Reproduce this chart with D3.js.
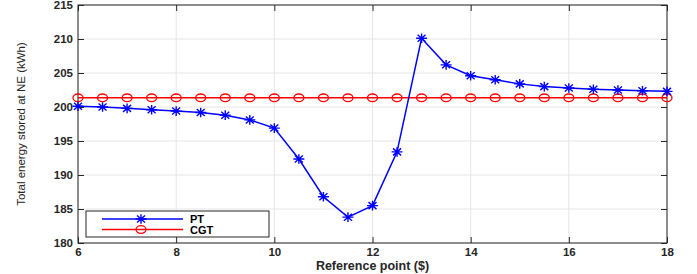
<!DOCTYPE html>
<html><head><meta charset="utf-8">
<script src="https://cdn.jsdelivr.net/npm/d3@7"></script>
<style>body{margin:0;background:#fff}svg{display:block}</style>
</head><body>
<svg id="c" width="697" height="274"></svg>
<script>
const refPoints = [6,6.5,7,7.5,8,8.5,9,9.5,10,10.5,11,11.5,12,12.5,13,13.5,14,14.5,15,15.5,16,16.5,17,17.5,18];
const ptValues = [200.1,200.0,199.8,199.6,199.4,199.2,198.8,198.1,196.9,192.35,186.8,183.8,185.5,193.4,210.1,206.2,204.6,204.0,203.4,203.0,202.8,202.6,202.5,202.4,202.3];
const cgtValues = refPoints.map(() => 201.35);
const xTicks = [6,8,10,12,14,16,18];
const yTicks = [180,185,190,195,200,205,210,215];
const seriesNames = ["PT","CGT"];

const svg = d3.select("#c");
const L=78,R=667,T=5,B=243;
const x = d3.scaleLinear().domain([6,18]).range([L,R]);
const y = d3.scaleLinear().domain([180,215]).range([B,T]);
const font = "'Liberation Sans', Arial, sans-serif";

// grid
svg.append("g").selectAll("line").data(xTicks).join("line")
  .attr("x1",d=>x(d)).attr("x2",d=>x(d)).attr("y1",T).attr("y2",B)
  .attr("stroke","#e6e6e6").attr("stroke-width",1);
svg.append("g").selectAll("line").data(yTicks).join("line")
  .attr("y1",d=>y(d)).attr("y2",d=>y(d)).attr("x1",L).attr("x2",R)
  .attr("stroke","#e6e6e6").attr("stroke-width",1);

// axes
const xa = svg.append("g").attr("transform",`translate(0,${B})`)
  .call(d3.axisBottom(x).tickValues(xTicks).tickSizeInner(-6).tickSizeOuter(0).tickPadding(5).tickFormat(d3.format("d")));
const ya = svg.append("g").attr("transform",`translate(${L},0)`)
  .call(d3.axisLeft(y).tickValues(yTicks).tickSizeInner(-6).tickSizeOuter(0).tickPadding(5).tickFormat(d3.format("d")));
const xt = svg.append("g").attr("transform",`translate(0,${T})`)
  .call(d3.axisTop(x).tickValues(xTicks).tickSizeInner(-6).tickSizeOuter(0).tickFormat(""));
const yr = svg.append("g").attr("transform",`translate(${R},0)`)
  .call(d3.axisRight(y).tickValues(yTicks).tickSizeInner(-6).tickSizeOuter(0).tickFormat(""));
[xa,ya,xt,yr].forEach(g=>{
  g.select(".domain").remove();
  g.selectAll(".tick line").attr("stroke","#262626");
  g.selectAll("text").attr("font-family",font).attr("font-size",11.5).attr("font-weight","bold").attr("fill","#262626");
});
svg.append("rect").attr("x",L).attr("y",T).attr("width",R-L).attr("height",B-T)
  .attr("fill","none").attr("stroke","#262626").attr("stroke-width",1);

// lines
const line = d3.line().x(d=>x(d[0])).y(d=>y(d[1]));
const cgtData = refPoints.map((r,i)=>[r,cgtValues[i]]);
const ptData = refPoints.map((r,i)=>[r,ptValues[i]]);
svg.append("path").datum(cgtData).attr("d",line).attr("fill","none").attr("stroke","#ff0000").attr("stroke-width",1.5);
svg.append("path").datum(ptData).attr("d",line).attr("fill","none").attr("stroke","#0000ff").attr("stroke-width",1.5);

function ring(g,cx,cy){
  g.append("ellipse").attr("cx",cx).attr("cy",cy).attr("rx",5).attr("ry",3.8)
    .attr("fill","none").attr("stroke","#ff0000").attr("stroke-width",1.3);
}
function star(g,cx,cy){
  const sx=5.5, sy=4.8, dx=4, dy=3.5;
  const p=`M${cx-sx},${cy}L${cx+sx},${cy}M${cx},${cy-sy}L${cx},${cy+sy}M${cx-dx},${cy-dy}L${cx+dx},${cy+dy}M${cx-dx},${cy+dy}L${cx+dx},${cy-dy}`;
  g.append("path").attr("d",p).attr("stroke","#0000ff").attr("stroke-width",1.4).attr("fill","none");
}
const cg = svg.append("g");
cgtData.forEach(d=>ring(cg,x(d[0]),y(d[1])));
const pg = svg.append("g");
ptData.forEach(d=>star(pg,x(d[0]),y(d[1])));

// labels
svg.append("text").attr("x",(L+R)/2).attr("y",270).attr("text-anchor","middle")
  .attr("font-family",font).attr("font-size",12.5).attr("font-weight","bold").attr("fill","#262626")
  .text("Reference point ($)");
svg.append("text").attr("transform",`translate(25,${(T+B)/2}) rotate(-90)`).attr("text-anchor","middle")
  .attr("font-family",font).attr("font-size",11.5).attr("fill","#262626")
  .text("Total energy stored at NE (kWh)");

// legend
const lg = svg.append("g");
lg.append("rect").attr("x",86).attr("y",211).attr("width",183).attr("height",26)
  .attr("fill","#fff").attr("stroke","#262626").attr("stroke-width",1);
const colors=["#0000ff","#ff0000"];
seriesNames.forEach((n,i)=>{
  const yy = 219+i*10.5;
  lg.append("line").attr("x1",102).attr("x2",183).attr("y1",yy).attr("y2",yy).attr("stroke",colors[i]).attr("stroke-width",1.5);
  if(i===0) star(lg,141,yy); else ring(lg,141,yy);
  lg.append("text").attr("x",190).attr("y",yy+4).attr("font-family",font).attr("font-size",11)
    .attr("font-weight","bold").attr("fill","#000").text(n);
});
</script>
</body></html>
